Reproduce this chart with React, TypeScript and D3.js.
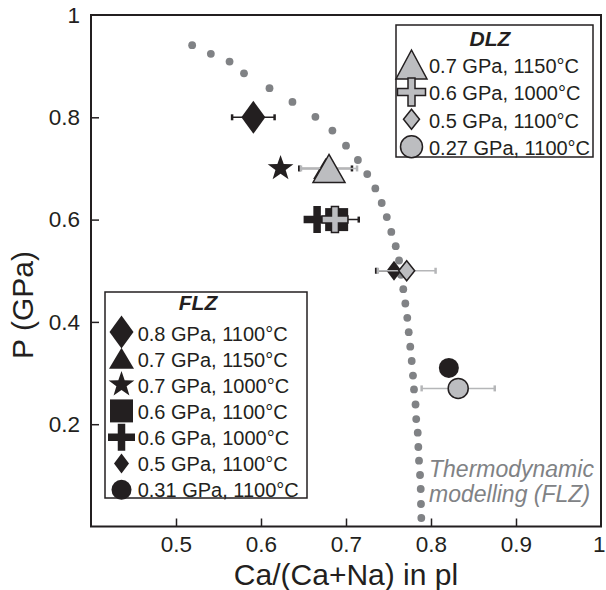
import React, { useEffect, useRef } from 'react'
import * as d3 from 'd3'

// thermodynamic modelling curve (FLZ)
const curveX = [0.519, 0.541, 0.563, 0.58, 0.61, 0.637, 0.664, 0.684, 0.7, 0.714, 0.725, 0.7345, 0.742, 0.748,
    0.7533, 0.7585, 0.7624, 0.7647, 0.7674, 0.7698, 0.7721, 0.7738, 0.7756, 0.7773, 0.7788, 0.78, 0.7818,
    0.7826, 0.7844, 0.7851, 0.7859, 0.7871, 0.7879, 0.7882, 0.7886]
const curveP = [0.941, 0.924, 0.909, 0.886, 0.857, 0.83, 0.801, 0.774, 0.7445, 0.7165, 0.689, 0.661, 0.6325, 0.605,
    0.576, 0.548, 0.52, 0.492, 0.464, 0.436, 0.408, 0.38, 0.3515, 0.3236, 0.295, 0.268, 0.2385,
    0.21, 0.1834, 0.1554, 0.1286, 0.1007, 0.0733, 0.044, 0.0166]

// experiments
const flzLabels = ['0.8 GPa, 1100°C', '0.7 GPa, 1150°C', '0.7 GPa, 1000°C', '0.6 GPa, 1100°C',
    '0.6 GPa, 1000°C', '0.5 GPa, 1100°C', '0.31 GPa, 1100°C']
const flzX = [0.591, 0.676, 0.623, 0.689, 0.666, 0.7565, 0.821]
const flzP = [0.8, 0.7, 0.7, 0.6, 0.6, 0.5, 0.31]
const flzErr = [0.025, 0.031, 0, 0.026, 0, 0.021, 0]

const dlzLabels = ['0.7 GPa, 1150°C', '0.6 GPa, 1000°C', '0.5 GPa, 1100°C', '0.27 GPa, 1100°C']
const dlzX = [0.68, 0.687, 0.7714, 0.832]
const dlzP = [0.7, 0.6, 0.5, 0.27]
const dlzErr = [0.033, 0, 0.034, 0.043]

const xTicks = [0.5, 0.6, 0.7, 0.8, 0.9, 1]
const yTicks = [0.2, 0.4, 0.6, 0.8, 1]

const INK = '#231f20'
const GREY = '#bcbdc0'
const DOT = '#808285'
const FONT = '"Liberation Sans", Arial, Helvetica, sans-serif'

// marker outlines, centred on 0,0
const diamond = (w: number, h: number) => `M0,${-h / 2}L${w / 2},0L0,${h / 2}L${-w / 2},0Z`
const triangle = (w: number, h: number) => `M0,${-h / 2}L${w / 2},${h / 2}L${-w / 2},${h / 2}Z`
const square = (s: number) => `M${-s / 2},${-s / 2}h${s}v${s}h${-s}Z`
const circle = (r: number) => `M${r},0A${r},${r} 0 1,1 ${-r},0A${r},${r} 0 1,1 ${r},0Z`
const cross = (w: number, t: number) => {
    let a = w / 2, b = t / 2
    return `M${-b},${-a}H${b}V${-b}H${a}V${b}H${b}V${a}H${-b}V${b}H${-a}V${-b}H${-b}Z`
}
const star = (R: number) => {
    let pts: string[] = []
    for (let i = 0; i < 10; i++) {
        let r = i % 2 === 0 ? R : R * 0.4
        let ang = -Math.PI / 2 + i * Math.PI / 5
        pts.push(`${r * Math.cos(ang)},${r * Math.sin(ang)}`)
    }
    return 'M' + pts.join('L') + 'Z'
}

const flzShapes = [diamond(24, 33), triangle(25, 21), star(13.5), square(23), cross(27, 7.5), diamond(15, 20), circle(10)]
const dlzShapes = [triangle(32, 28), cross(26, 7), diamond(16, 20), circle(10)]
const dlzLegendShapes = [triangle(31, 29), cross(28, 7), diamond(16, 20), circle(11)]

function drawChart(node: SVGSVGElement) {
    let margins = { t: 15, b: 63.5, l: 91, r: 5 }
    let width = 606, height = 590

    let x = d3.scaleLinear().domain([0.4, 1]).range([margins.l, width - margins.r])
    let y = d3.scaleLinear().domain([0, 1]).range([height - margins.b, margins.t])

    let svg = d3.select(node)
    svg.selectAll('*').remove()
    svg.attr('font-family', FONT)

    let fmt = (d: any) => String(d)

    // axes, ticks pointing inwards
    let xAxis = svg.append('g')
        .attr('transform', `translate(0, ${y(0)})`)
        .call(d3.axisBottom(x).tickValues(xTicks).tickSize(-8).tickPadding(10).tickFormat(fmt))
    let yAxis = svg.append('g')
        .attr('transform', `translate(${x(0.4)}, 0)`)
        .call(d3.axisLeft(y).tickValues(yTicks).tickSize(-8).tickPadding(11).tickFormat(fmt))
    for (let ax of [xAxis, yAxis]) {
        ax.select('.domain').remove()
        ax.selectAll('line').attr('stroke', INK).attr('stroke-width', 1.5)
        ax.selectAll('text').attr('fill', INK).attr('font-size', 22.5).attr('font-family', FONT)
    }
    // last x label sits against the page edge
    xAxis.selectAll('.tick').filter((d: any) => d === 1).select('text')
        .attr('text-anchor', 'end').attr('x', 605 - x(1))
    xAxis.selectAll('.tick').filter((d: any) => d === 1).select('line').remove()
    yAxis.selectAll('.tick').filter((d: any) => d === 1).select('line').remove()

    // frame
    svg.append('rect')
        .attr('x', x(0.4)).attr('y', y(1))
        .attr('width', x(1) - x(0.4)).attr('height', y(0) - y(1))
        .attr('fill', 'none').attr('stroke', INK).attr('stroke-width', 2)

    // axis titles
    svg.append('text')
        .attr('x', (x(0.4) + x(1)) / 2).attr('y', 584.5)
        .attr('text-anchor', 'middle').attr('font-size', 30).attr('fill', INK)
        .text('Ca/(Ca+Na) in pl')
    svg.append('text')
        .attr('transform', `translate(33, 305) rotate(-90)`)
        .attr('text-anchor', 'middle').attr('font-size', 30).attr('fill', INK)
        .text('P (GPa)')

    // model curve
    svg.append('g').selectAll('circle').data(curveX).join('circle')
        .attr('cx', d => x(d))
        .attr('cy', (d, i) => y(curveP[i]))
        .attr('r', 3.9)
        .attr('fill', DOT)

    let model = svg.append('text')
        .attr('font-size', 23).attr('font-style', 'italic').attr('fill', DOT)
    model.append('tspan').attr('x', 429).attr('y', 477).text('Thermodynamic')
    model.append('tspan').attr('x', 429).attr('y', 502).text('modelling (FLZ)')

    let errorBars = (xs: number[], ps: number[], errs: number[], color: string) => {
        let g = svg.append('g').attr('stroke', color).attr('stroke-width', 1.5)
        xs.forEach((v, i) => {
            if (!errs[i]) return
            let x0 = x(v - errs[i]), x1 = x(v + errs[i]), yy = y(ps[i])
            g.append('line').attr('x1', x0).attr('x2', x1).attr('y1', yy).attr('y2', yy)
            g.append('line').attr('x1', x0).attr('x2', x0).attr('y1', yy - 3).attr('y2', yy + 3).attr('stroke-width', 2.5)
            g.append('line').attr('x1', x1).attr('x2', x1).attr('y1', yy - 3).attr('y2', yy + 3).attr('stroke-width', 2.5)
        })
    }

    // FLZ (black)
    errorBars(flzX, flzP, flzErr, INK)
    svg.append('g').selectAll('path').data(flzX).join('path')
        .attr('transform', (d, i) => `translate(${x(d)}, ${y(flzP[i])})`)
        .attr('d', (d, i) => flzShapes[i])
        .attr('fill', INK)

    // DLZ (grey)
    errorBars(dlzX, dlzP, dlzErr, '#b5b6b8')
    svg.append('g').selectAll('path').data(dlzX).join('path')
        .attr('transform', (d, i) => `translate(${x(d)}, ${y(dlzP[i])})`)
        .attr('d', (d, i) => dlzShapes[i])
        .attr('fill', GREY).attr('stroke', INK).attr('stroke-width', 1.5)

    // DLZ legend
    let dl = svg.append('g')
    dl.append('rect').attr('x', 396).attr('y', 25).attr('width', 197).attr('height', 132)
        .attr('fill', 'white').attr('stroke', INK).attr('stroke-width', 1.5)
    dl.append('text').attr('x', 490).attr('y', 45.5).attr('text-anchor', 'middle')
        .attr('font-size', 21).attr('font-weight', 'bold').attr('font-style', 'italic').attr('fill', INK)
        .text('DLZ')
    dl.selectAll('path').data(dlzLabels).join('path')
        .attr('transform', (d, i) => `translate(411.5, ${64.5 + i * 27.4})`)
        .attr('d', (d, i) => dlzLegendShapes[i])
        .attr('fill', GREY).attr('stroke', INK).attr('stroke-width', 1.5)
    dl.selectAll('text.lab').data(dlzLabels).join('text').attr('class', 'lab')
        .attr('x', 429).attr('y', (d, i) => 65.5 + i * 27.5 + 7.2)
        .attr('font-size', 20).attr('fill', INK)
        .text(d => d)

    // FLZ legend
    let fl = svg.append('g')
    fl.append('rect').attr('x', 105).attr('y', 292).attr('width', 202).attr('height', 206)
        .attr('fill', 'white').attr('stroke', INK).attr('stroke-width', 1.5)
    fl.append('text').attr('x', 198).attr('y', 310).attr('text-anchor', 'middle')
        .attr('font-size', 21).attr('font-weight', 'bold').attr('font-style', 'italic').attr('fill', INK)
        .text('FLZ')
    fl.selectAll('path').data(flzLabels).join('path')
        .attr('transform', (d, i) => `translate(121.5, ${332 + i * 26.3})`)
        .attr('d', (d, i) => flzShapes[i])
        .attr('fill', INK)
    fl.selectAll('text.lab').data(flzLabels).join('text').attr('class', 'lab')
        .attr('x', 137.7).attr('y', (d, i) => 334 + i * 26 + 7.2)
        .attr('font-size', 20).attr('fill', INK)
        .text(d => d)
}

export default function App() {
    const ref = useRef<SVGSVGElement>(null)
    useEffect(() => {
        if (ref.current) drawChart(ref.current)
    }, [])
    return (
        <svg ref={ref} width={606} height={590}
            style={{ position: 'absolute', left: 0, top: 0, background: 'white' }} />
    )
}
